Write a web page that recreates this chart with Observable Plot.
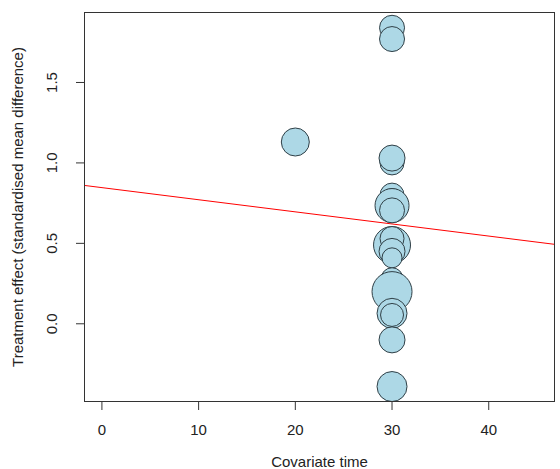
<!DOCTYPE html>
<html><head><meta charset="utf-8">
<script src="https://cdn.jsdelivr.net/npm/d3@7"></script>
<script src="https://cdn.jsdelivr.net/npm/@observablehq/plot@0.6"></script>
<style>body{margin:0;background:#fff;}</style>
</head><body><div id="chart"></div>
<script>
const covariateTime = [30, 30, 20, 30, 30, 30, 30, 30, 30, 30, 30, 30, 30, 30, 30, 30, 30, 30, 30];
const effectSize = [1.84, 1.77, 1.13, 1.00, 1.03, 0.80, 0.76, 0.735, 0.705, 0.49, 0.53, 0.45, 0.41, 0.28, 0.20, 0.065, 0.055, -0.10, -0.39];
const studyWeight = [156, 156, 196, 144, 169, 144, 169, 289, 156, 342, 144, 169, 100, 121, 400, 225, 132, 169, 225];
const xTicks = [0, 10, 20, 30, 40];
const yTicks = [0, 0.5, 1, 1.5];
const fitX = [-1.8, 46.8];
const fitY = [0.86, 0.494];
const xLabel = "Covariate time";
const yLabel = "Treatment effect (standardised mean difference)";

const studies = covariateTime.map((t, i) => ({time: t, effect: effectSize[i], weight: studyWeight[i]}));
const fit = fitX.map((x, i) => ({x, y: fitY[i]}));

const chart = Plot.plot({
  width: 560, height: 469,
  marginLeft: 84, marginRight: 6, marginTop: 12, marginBottom: 68,
  style: {fontFamily: "'Liberation Sans', Arial, sans-serif", fontSize: "15px", color: "#222", background: "#fff"},
  x: {domain: [-1.8, 46.8]},
  y: {domain: [-0.483, 1.935]},
  r: {type: "sqrt", domain: [0, 400], range: [0, 20]},
  marks: [
    Plot.line(fit, {x: "x", y: "y", stroke: "red", strokeWidth: 1, clip: true}),
    Plot.dot(studies, {x: "time", y: "effect", r: "weight", fill: "#add8e6", stroke: "#2f3f46", strokeWidth: 1, sort: null}),
    Plot.frame({stroke: "#333"}),
    Plot.axisX({ticks: xTicks, tickSize: 9, tickPadding: 14, label: null, stroke: "#333"}),
    Plot.axisY({ticks: yTicks, tickSize: 8, tickPadding: 20, tickFormat: ".1f", tickRotate: -90, label: null, stroke: "#333"}),
    Plot.text([xLabel], {frameAnchor: "bottom", dy: 55, lineAnchor: "top", textAnchor: "middle", text: d => d}),
    Plot.text([yLabel], {frameAnchor: "left", dx: -66, rotate: -90, textAnchor: "middle", text: d => d})
  ]
});
document.getElementById("chart").appendChild(chart);
</script>
</body></html>
